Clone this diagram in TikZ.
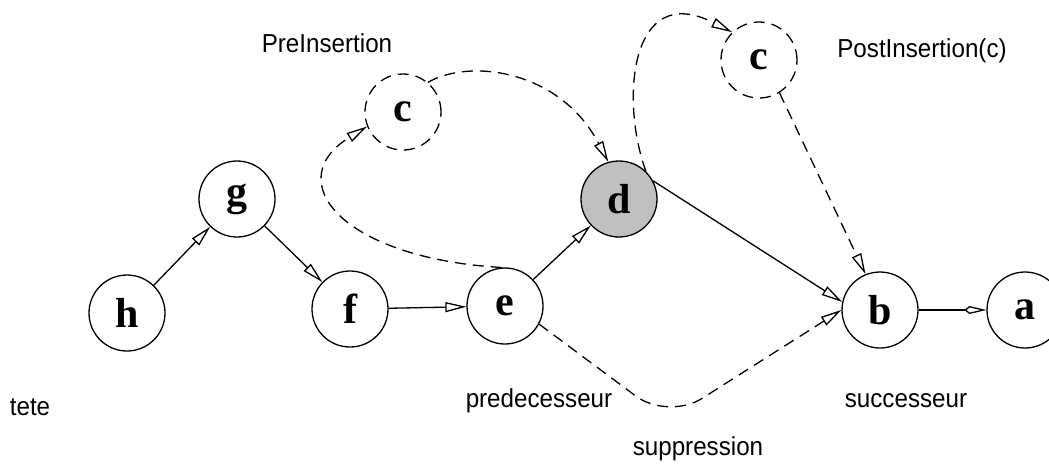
\documentclass[tikz,border=0pt]{standalone}
\usepackage{fontspec}
\setmainfont{Liberation Serif}
\newfontfamily\lblfont[FakeStretch=0.93]{Liberation Sans}
\usetikzlibrary{arrows.meta}

\tikzset{
  vertex/.style={circle, draw, line width=1.3pt, minimum size=76pt, inner sep=0pt,
                 font=\fontsize{42}{42}\selectfont\bfseries},
  ghost/.style={vertex, dash pattern=on 11pt off 7pt},
  current/.style={vertex, fill=black!25},
  lbl/.style={font=\lblfont\fontsize{26}{26}\selectfont, anchor=base, inner sep=0pt},
  opentri/.tip={Triangle[open, length=21pt, width=10pt]},
  link/.style={line width=1.3pt, -opentri},
  lastlink/.style={line width=1.3pt, -{Kite[open, length=22pt, width=8pt, inset=5pt]}},
  move/.style={line width=1.3pt, dash pattern=on 11pt off 7pt, -opentri},
}

\begin{document}
\begin{tikzpicture}[x=1pt, y=-1pt]
\useasboundingbox (0,0) rectangle (1049,464);

% list cells
\node[vertex]  (h)  at (127,313) {h};
\node[vertex]  (g)  at (237,199) {g};
\node[vertex]  (f)  at (350,309) {f};
\node[vertex]  (e)  at (505,306) {e};
\node[current] (d)  at (619,199) {d};
\node[vertex]  (b)  at (880,310) {b};
\node[vertex]  (a)  at (1025,310) {a};
\node[ghost]   (c1) at (403,112) {c};
\node[ghost]   (c2) at (759,60)  {c};

% labels
\node[lbl] (lpre)  at (327,52)  {PreInsertion};
\node[lbl] (lpost) at (922,57)  {PostInsertion(c)};
\node[lbl] (ltete) at (30,415)  {tete};
\node[lbl] (lpred) at (539,407) {predecesseur};
\node[lbl] (lsucc) at (906,407) {successeur};
\node[lbl] (lsupp) at (698,455) {suppression};

% list links
\draw[link] (h) -- (g);
\draw[link] (g) -- (f);
\draw[link] (f) -- (e);
\draw[link] (e) -- (d);
\draw[link] (d.28) -- (b.168);
\draw[lastlink] (b) -- (a);

% moves of the cell
\draw[move] (e.95) .. controls (340,258) and (280,180) .. (c1.202);
\draw[move] (c1.50) .. controls (470,58) and (560,70) .. (d.106);
\draw[move] (d.46) .. controls (620,100) and (630,-20) .. (c2.134);
\draw[move] (c2.-58) -- (b.112);
\coordinate (dip) at (668,420);
\draw[move, rounded corners=40pt] (e.-28) -- (dip) -- (b.180);
\end{tikzpicture}
\end{document}
